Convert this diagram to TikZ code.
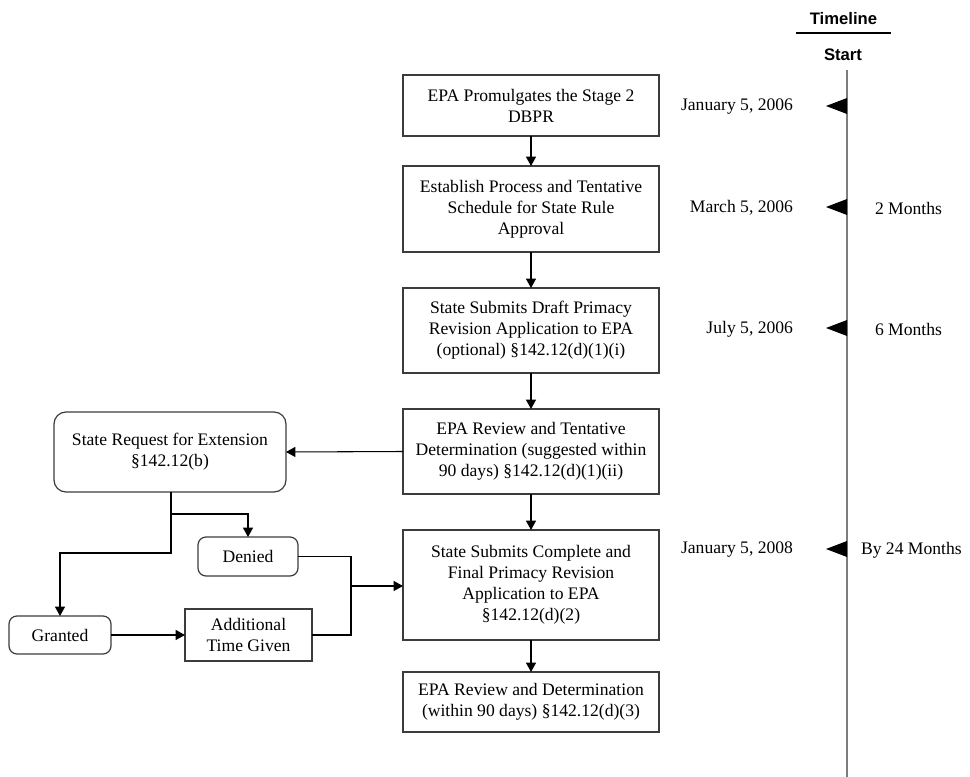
\documentclass[tikz,border=0pt]{standalone}
\usepackage{fontspec}
\setmainfont{Liberation Serif}
\newfontfamily\hdrfont{Liberation Sans}
\usetikzlibrary{arrows.meta}
\definecolor{boxgray}{RGB}{60,60,60}
\definecolor{tlgray}{RGB}{125,125,125}
\begin{document}
\begin{tikzpicture}[x=0.75pt,y=-0.75pt,
  every node/.style={font=\fontsize{13.2}{15.75}\selectfont, inner sep=0pt, outer sep=0pt},
  box/.style={draw=boxgray, line width=0.9pt, align=center, minimum width=192pt, fill=white},
  rbox/.style={box, rounded corners=6pt},
  conn/.style={draw=black, line width=0.8pt},
  arr/.style={conn, -{Triangle[length=7pt,width=7.5pt]}},
  hdr/.style={font=\hdrfont\bfseries\fontsize{12.5}{15}\selectfont},
  flag/.style={fill=black, draw=none}
]
\useasboundingbox (0,0) rectangle (970,777);

% main column
\node[box, minimum height=45.75pt] (b1) at (531,105.5) {EPA Promulgates the Stage 2\\DBPR};
\node[box, minimum height=64.5pt] (b2) at (531,209) {Establish Process and Tentative\\Schedule for State Rule\\Approval};
\node[box, minimum height=63.75pt] (b3) at (531,330.5) {State Submits Draft Primacy\\Revision Application to EPA\\(optional) \S142.12(d)(1)(i)};
\node[box, minimum height=63.75pt] (b4) at (531,451.5) {EPA Review and Tentative\\Determination (suggested within\\90 days) \S142.12(d)(1)(ii)};
\node[box, minimum height=82.5pt] (b5) at (531,585) {State Submits Complete and\\Final Primacy Revision\\Application to EPA\\\S142.12(d)(2)};
\node[box, minimum height=45pt] (b6) at (531,702) {EPA Review and Determination\\(within 90 days) \S142.12(d)(3)};

% left branch
\node[rbox, rounded corners=9pt, minimum width=174pt, minimum height=60pt] (req) at (170,452) {State Request for Extension\\\S142.12(b)};
\node[rbox, minimum width=75pt, minimum height=29.25pt] (den) at (248,556.5) {Denied};
\node[rbox, minimum width=76.5pt, minimum height=28.5pt] (gra) at (60,635) {Granted};
\node[box, minimum width=95.25pt, minimum height=39pt] (add) at (248.5,635) {Additional\\Time Given};

% vertical arrows
\draw[arr] (b1) -- (b2);
\draw[arr] (b2) -- (b3);
\draw[arr] (b3) -- (b4);
\draw[arr] (b4) -- (b5);
\draw[arr] (b5) -- (b6);

% branch connectors
\draw[arr] (b4.west) -- (req.east);
\coordinate (split) at (171,514);
\coordinate (join) at (351,586);
\draw[conn] (req.south -| split) -- (split);
\draw[arr] (split) -| (den.north);
\draw[arr] (split) -- (171,553) -| (gra.north);
\draw[arr] (gra) -- (add);
\draw[conn] (den.east) -| (join);
\draw[conn] (add.east) -| (join);
\draw[arr] (join) -- (join -| b5.west);

% timeline
\node[hdr] (tl) at (843.5,19) {Timeline};
\draw[line width=1.6pt] (796,33) -- (891,33);
\node[hdr] (st) at (843,55) {Start};
\coordinate (ltop) at (847,70);
\coordinate (lbot) at (847,777);
\draw[tlgray, line width=1.5pt] (ltop) -- (lbot);

\foreach \yy in {106,207,328,549}{
  \fill[flag] (826,\yy) -- (847,\yy-8) -- (847,\yy+8) -- cycle;
}
\node[anchor=east] (d1) at (793,107) {January 5, 2006};
\node[anchor=east] (d2) at (793,208) {March 5, 2006};
\node[anchor=east] (d3) at (793,329) {July 5, 2006};
\node[anchor=east] (d4) at (793,550) {January 5, 2008};
\node[anchor=west] (m2) at (875,208) {2 Months};
\node[anchor=west] (m6) at (875,329) {6 Months};
\node[anchor=west] (m24) at (861,550) {By 24 Months};
\end{tikzpicture}
\end{document}
